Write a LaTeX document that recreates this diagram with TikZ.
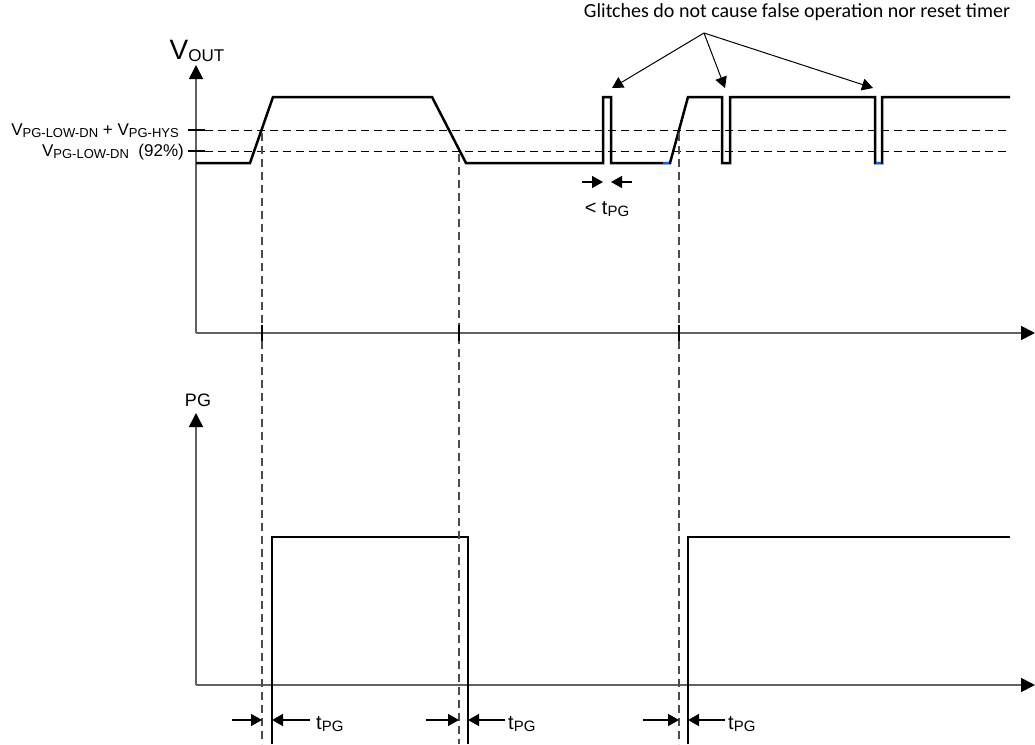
\documentclass[tikz,border=0pt]{standalone}
\usepackage{fontspec}
\setmainfont{Liberation Sans}
\newfontfamily\notafont{Carlito}
\usetikzlibrary{arrows.meta, calc}
\newcommand{\pedice}[2][13]{\raisebox{-2.5pt}{\fontsize{#1}{#1}\selectfont #2}}

\begin{document}
\begin{tikzpicture}[x=1pt, y=-1pt,
    asse/.style={line width=1.6pt, draw=black!62, -{Triangle[length=14pt, width=14pt, color=black]}},
    segnale/.style={line width=2.5pt, line join=miter},
    soglia/.style={line width=1pt, dash pattern=on 8pt off 5pt},
    guida/.style={line width=1.2pt, draw=black!70, dash pattern=on 8pt off 5pt},
    tacca/.style={line width=2pt},
    freccia/.style={line width=1.5pt, -{Triangle[length=11pt, width=12pt]}},
    etichetta/.style={inner sep=0pt, font=\fontsize{17}{20}\selectfont},
    tempo/.style={inner sep=0pt, anchor=base west, font=\fontsize{20}{24}\selectfont}]
    \useasboundingbox (0,0) rectangle (1035,744);

    % Assi superiori
    \coordinate (O1) at (196,333);
    \coordinate (Y1) at (196,65);
    \coordinate (X1) at (1035,333);
    \draw[asse] (O1) -- (Y1);
    \draw[asse] (O1) -- (X1);
    \node[etichetta, anchor=base, font=\fontsize{28}{30}\selectfont] (vout) at (197,59)
        {V\pedice[17]{OUT}};

    % Assi inferiori
    \coordinate (O2) at (196,685);
    \coordinate (Y2) at (196,413);
    \coordinate (X2) at (1035,685);
    \draw[asse] (O2) -- (Y2);
    \draw[asse] (O2) -- (X2);
    \node[etichetta, font=\fontsize{18}{22}\selectfont] (pg) at (198,400) {PG};

    % Soglie
    \coordinate (S1a) at (188,130);
    \coordinate (S1b) at (205,130);
    \coordinate (S1c) at (1008,130);
    \coordinate (S2a) at (188,151);
    \coordinate (S2b) at (205,151);
    \coordinate (S2c) at (1008,151);
    \draw[tacca, line width=1.5pt] (S1a) -- (S1b);
    \draw[tacca, line width=1.5pt] (S2a) -- (S2b);
    \draw[soglia] (S1b) -- (S1c);
    \draw[soglia] (S2b) -- (S2c);
    \node[etichetta, anchor=base east] (hys) at (179,135)
        {V\pedice{PG-LOW-DN} + V\pedice{PG-HYS}};
    \node[etichetta, anchor=base east] (dn) at (184,156)
        {V\pedice{PG-LOW-DN}\ \ (92\%)};

    % Segnale VOUT
    \draw[segnale] (196,163) -- (250,163) -- (273,97) -- (432,97) -- (466,163)
        -- (603,163) -- (603,97) -- (611,97) -- (611,163) -- (670,163)
        -- (688,97) -- (722,97) -- (722,163) -- (730,163) -- (730,97)
        -- (875,97) -- (875,163) -- (882,163) -- (882,97) -- (1010,97);
    \draw[line width=2.5pt, draw=blue!60!cyan] (663,163) -- (669,163);
    \draw[line width=2.5pt, draw=blue!60!cyan] (876,163) -- (881,163);

    % Segnale PG
    \draw[segnale, line width=2.2pt] (272,744) -- (272,537) -- (468,537) -- (468,744);
    \draw[segnale, line width=2.2pt] (688,744) -- (688,537) -- (1010,537);

    % Linee guida
    \coordinate (G1) at (262,133);
    \coordinate (G2) at (459,154);
    \coordinate (G3) at (679,133);
    \foreach \g in {G1,G2,G3} {
        \draw[guida] (\g) -- (\g |- 0,744);
        \draw[tacca] ($(\g |- O1) + (0,-8)$) -- ($(\g |- O1) + (0,8)$);
    }

    % Tempi tPG
    \draw[freccia] (232,720) -- (262,720);
    \draw[freccia] (310,720) -- (272,720);
    \node[tempo] (t1) at (316,729) {t\pedice[15]{PG}};
    \draw[freccia] (426,720) -- (459,720);
    \draw[freccia] (505,720) -- (468,720);
    \node[tempo] (t2) at (508,729) {t\pedice[15]{PG}};
    \draw[freccia] (643,720) -- (679,720);
    \draw[freccia] (725,720) -- (688,720);
    \node[tempo] (t3) at (728,729) {t\pedice[15]{PG}};

    % Glitch
    \draw[freccia] (582,182) -- (603,182);
    \draw[freccia] (632,182) -- (611,182);
    \node[tempo, anchor=base] (tg) at (607,214) {< t\pedice[15]{PG}};
    \node[inner sep=0pt, font=\notafont\fontsize{20}{24}\selectfont] (nota) at (797,12)
        {Glitches do not cause false operation nor reset timer};
    \coordinate (N) at (704,33);
    \draw[freccia, line width=1pt] (N) -- (612,88);
    \draw[freccia, line width=1pt] (N) -- (725,88);
    \draw[freccia, line width=1pt] (N) -- (873,88);
\end{tikzpicture}
\end{document}
